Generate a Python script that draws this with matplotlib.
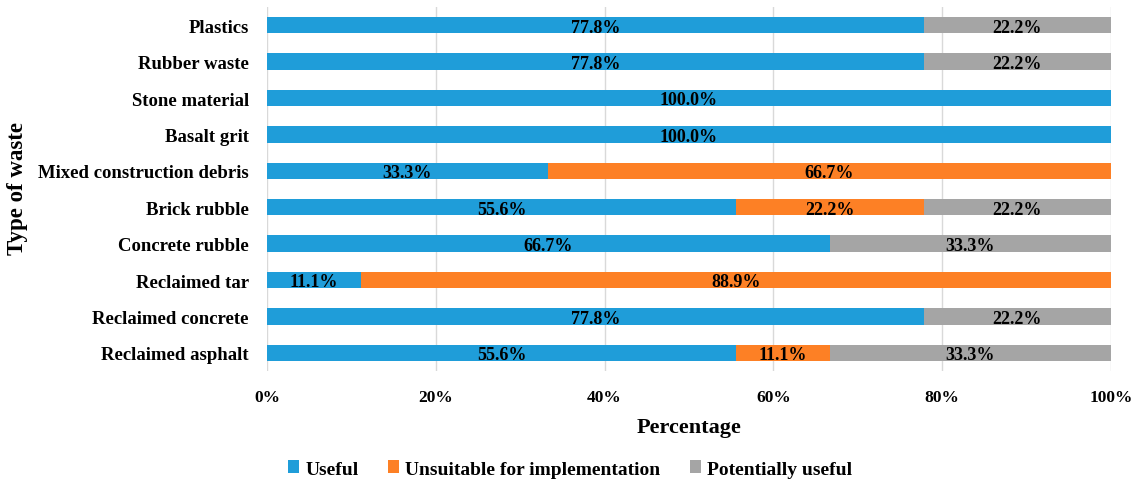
import matplotlib

matplotlib.use("Agg")
import matplotlib.pyplot as plt
from matplotlib.ticker import FuncFormatter

plt.rcParams["font.family"] = ["Liberation Serif", "DejaVu Serif"]
plt.rcParams["font.weight"] = "bold"

categories = [
    "Reclaimed asphalt", "Reclaimed concrete", "Reclaimed tar", "Concrete rubble",
    "Brick rubble", "Mixed construction debris", "Basalt grit", "Stone material",
    "Rubber waste", "Plastics",
]
useful = [55.6, 77.8, 11.1, 66.7, 55.6, 33.3, 100.0, 100.0, 77.8, 77.8]
unsuitable = [11.1, 0.0, 88.9, 0.0, 22.2, 66.7, 0.0, 0.0, 0.0, 0.0]
potential = [33.3, 22.2, 0.0, 33.3, 22.2, 0.0, 0.0, 0.0, 22.2, 22.2]

series = [
    ("Useful", useful, "#1f9dd9"),
    ("Unsuitable for implementation", unsuitable, "#fd8025"),
    ("Potentially useful", potential, "#a5a5a5"),
]

W, H = 1133, 485
fig = plt.figure(figsize=(W / 100, H / 100), dpi=100)
ax = fig.add_axes([267 / W, 1 - 372 / H, (1111 - 267) / W, (372 - 8) / H])

ypos = list(range(len(categories)))
left = [0.0] * len(categories)
for name, vals, color in series:
    ax.barh(ypos, vals, left=left, height=0.45, color=color, label=name, zorder=2)
    for y, l, v in zip(ypos, left, vals):
        if v > 0:
            ax.text(l + v / 2, y - 0.05, f"{v:.1f}%", ha="center", va="center",
                    fontsize=13, fontweight="bold", color="black", zorder=3)
    left = [a + b for a, b in zip(left, vals)]

ax.set_xlim(0, 100)
ax.set_ylim(-0.5, len(categories) - 0.5)
ax.set_xticks(range(0, 101, 20))
ax.xaxis.set_major_formatter(FuncFormatter(lambda x, _: f"{x:.0f}%"))
ax.set_yticks(ypos)
ax.set_yticklabels(categories, fontsize=13.5)
ax.tick_params(axis="both", length=0)
ax.tick_params(axis="x", pad=13, labelsize=12.5)
ax.tick_params(axis="y", pad=13)
ax.grid(axis="x", color="#d9d9d9", linewidth=1, zorder=0)
for s in ax.spines.values():
    s.set_visible(False)

fig.text(689 / W, 1 - 428 / H, "Percentage", ha="center", va="center",
         fontsize=16, fontweight="bold")
fig.text(18 / W, 1 - 189 / H, "Type of waste", ha="center", va="center",
         rotation=90, fontsize=16.5, fontweight="bold")

fig.legend(loc="center", bbox_to_anchor=(570 / W, 1 - 470 / H), ncol=3,
           frameon=False, fontsize=14, handlelength=0.6, handleheight=0.6,
           handletextpad=0.3, columnspacing=1.5)

fig.savefig("out.png", dpi=100)
